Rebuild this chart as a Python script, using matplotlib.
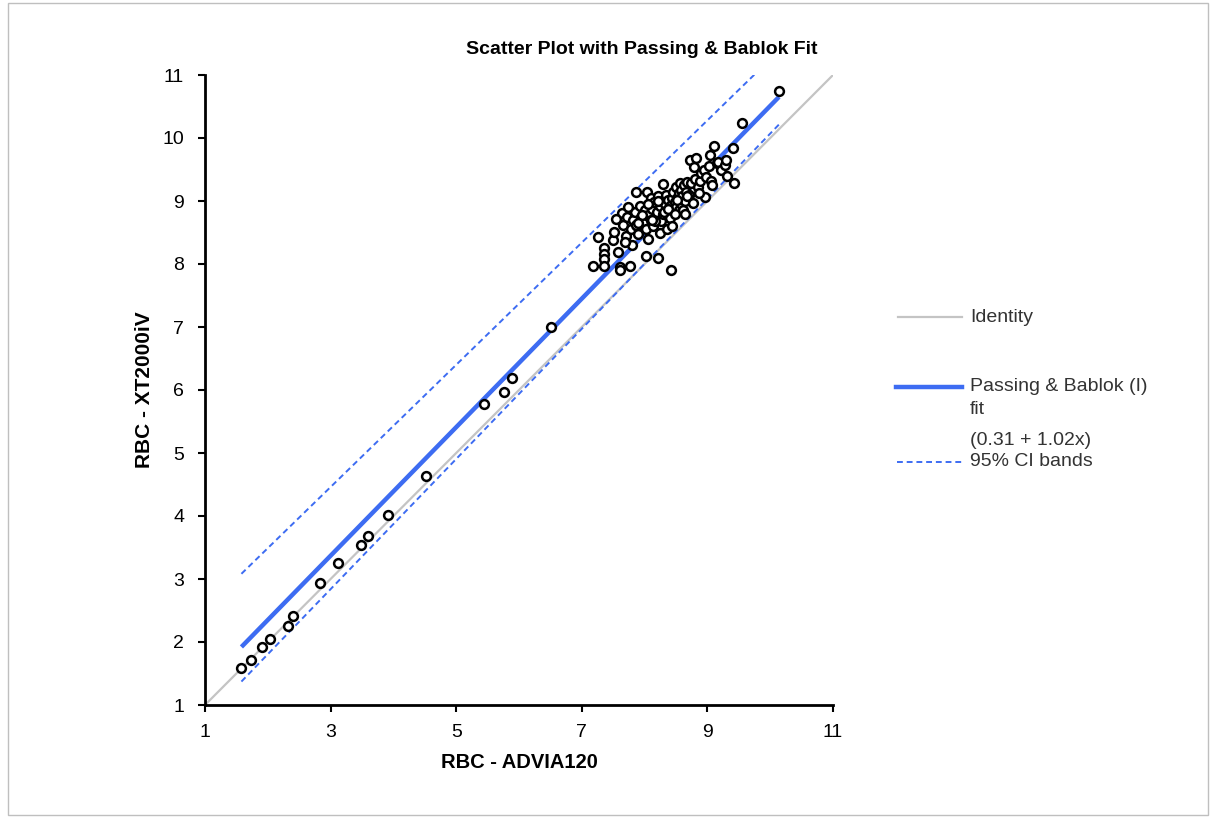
import numpy as np
import matplotlib
matplotlib.use("Agg")
import matplotlib.pyplot as plt
from matplotlib.lines import Line2D
from matplotlib.patches import Rectangle

plt.rcParams['font.family'] = ['Liberation Sans', 'DejaVu Sans']

# =============================
# DATA
# =============================
advia = [1.58, 1.73, 1.90, 2.03, 2.32, 2.40, 2.83, 3.12, 3.49, 3.60, 3.92, 4.52,
         5.44, 5.76, 5.89, 6.51,
         7.18, 7.26, 7.35, 7.35, 7.35, 7.35, 7.50, 7.51, 7.58, 7.61, 7.61, 7.64,
         7.66, 7.70, 7.72, 7.77, 7.78, 7.80, 7.82, 7.84, 7.86, 7.88, 7.90, 7.92,
         7.95, 7.98, 8.00, 8.02, 8.02, 8.04, 8.05, 8.06, 8.08, 8.10, 8.10, 8.12,
         8.14, 8.15, 8.18, 8.20, 8.21, 8.22, 8.24, 8.25, 8.26, 8.28, 8.29, 8.30,
         8.32, 8.34, 8.35, 8.36, 8.38, 8.40, 8.40, 8.42, 8.44, 8.45, 8.46, 8.48,
         8.50, 8.50, 8.52, 8.54, 8.55, 8.56, 8.58, 8.58, 8.60, 8.61, 8.62, 8.64,
         8.66, 8.68, 8.70, 8.72, 8.74, 8.77, 8.78, 8.80, 8.82, 8.85, 8.88, 8.90,
         8.95, 8.96, 8.98, 9.02, 9.04, 9.06, 9.08, 9.11, 9.15, 9.17, 9.22, 9.28,
         9.30, 9.31, 9.41, 9.42, 9.55, 10.14,
         7.55, 7.68, 7.74, 7.86, 7.96, 8.16, 8.31, 8.44, 8.64, 8.86,
         8.05, 8.22, 8.38, 8.52, 8.68, 7.90, 8.12, 8.48]
xt2000 = [1.58, 1.71, 1.92, 2.05, 2.25, 2.41, 2.94, 3.26, 3.54, 3.69, 4.02, 4.63,
          5.78, 5.97, 6.19, 7.00,
          7.97, 8.43, 8.25, 8.16, 8.08, 7.97, 8.38, 8.51, 8.19, 7.95, 7.90, 8.81,
          8.62, 8.45, 8.75, 7.97, 8.55, 8.30, 8.70, 8.82, 9.14, 8.60, 8.48, 8.92,
          8.75, 8.65, 8.85, 8.13, 8.55, 9.14, 8.78, 8.40, 8.95, 8.70, 9.05, 8.88,
          8.60, 8.98, 8.75, 8.82, 8.10, 9.08, 8.50, 8.92, 8.68, 9.00, 9.27, 8.80,
          8.95, 9.10, 8.55, 8.85, 9.02, 8.73, 8.92, 7.90, 9.05, 8.85, 9.15, 8.98,
          8.90, 9.22, 9.05, 8.85, 9.12, 9.29, 8.95, 9.18, 9.08, 8.86, 9.25, 9.00,
          9.15, 9.30, 9.10, 9.65, 9.28, 8.97, 9.54, 9.35, 9.68, 9.22, 9.32, 9.45,
          9.49, 9.06, 9.38, 9.55, 9.73, 9.32, 9.25, 9.87, 9.60, 9.62, 9.50, 9.57,
          9.65, 9.40, 9.84, 9.29, 10.24, 10.75,
          8.72, 8.35, 8.90, 8.62, 8.78, 8.68, 8.82, 8.60, 8.80, 9.12,
          8.95, 9.00, 8.88, 9.02, 9.08, 8.65, 8.70, 8.80]

# Passing & Bablok fit and its 95% CI bands: (intercept, slope)
fit_coef = (0.31, 1.02)
ci_upper = (1.55, 0.97)
ci_lower = (-0.26, 1.033)
fit_range = (1.58, 10.14)

x_ticks = [1, 3, 5, 7, 9, 11]
y_ticks = [1, 2, 3, 4, 5, 6, 7, 8, 9, 10, 11]

blue = "#3D6CF2"
grey = "#C4C4C4"

# =============================
# FIGURE
# =============================
fig = plt.figure(figsize=(12.12, 8.18), dpi=100)
ax = fig.add_axes([205/1212, 113/818, 628/1212, 630/818])

xs = np.linspace(fit_range[0], fit_range[1], 50)

ax.plot([1, 11], [1, 11], color=grey, lw=1.6, zorder=1)
ax.plot(xs, ci_upper[0] + ci_upper[1]*xs, color=blue, lw=1.4, ls=(0, (3, 2)), zorder=2)
ax.plot(xs, ci_lower[0] + ci_lower[1]*xs, color=blue, lw=1.4, ls=(0, (3, 2)), zorder=2)
ax.plot(xs, fit_coef[0] + fit_coef[1]*xs, color=blue, lw=3.2, zorder=2, solid_capstyle="butt")

ax.scatter(advia, xt2000, s=40, facecolors="white", edgecolors="black",
           linewidths=1.8, zorder=3)

ax.set_xlim(1, 11)
ax.set_ylim(1, 11)
ax.set_xticks(x_ticks)
ax.set_yticks(y_ticks)
ax.tick_params(direction="out", length=5, width=1.5, labelsize=14, colors="black")
ax.tick_params(axis="x", pad=9)
ax.tick_params(axis="y", pad=10)
for s in ["top", "right"]:
    ax.spines[s].set_visible(False)
for s in ["left", "bottom"]:
    ax.spines[s].set_linewidth(2)

ax.set_xlabel("RBC - ADVIA120", fontsize=14.5, fontweight="bold", labelpad=8)
ax.set_ylabel("RBC - XT2000iV", fontsize=15, fontweight="bold", labelpad=6)

fig.text(642/1212, 1 - 50/818, "Scatter Plot with Passing & Bablok Fit",
         ha="center", va="center", fontsize=14, fontweight="bold")

# =============================
# LEGEND (manual, like the original)
# =============================
def fy(py):
    return 1 - py/818

def fx(px):
    return px/1212

fig.add_artist(Line2D([fx(898), fx(962)], [fy(317), fy(317)], color=grey, lw=1.6))
fig.add_artist(Line2D([fx(896), fx(962)], [fy(387), fy(387)], color=blue, lw=3.2))
fig.add_artist(Line2D([fx(897), fx(962)], [fy(462), fy(462)], color=blue, lw=1.4,
                      ls=(0, (3, 2))))

leg_kw = dict(ha="left", va="center", fontsize=14, color="#333333")
fig.text(fx(970), fy(317), "Identity", **leg_kw)
fig.text(fx(970), fy(387), "Passing & Bablok (I)", **leg_kw)
fig.text(fx(970), fy(410), "fit", **leg_kw)
fig.text(fx(970), fy(440), "(0.31 + 1.02x)", **leg_kw)
fig.text(fx(970), fy(462), "95% CI bands", **leg_kw)

# outer frame
fig.add_artist(Rectangle((fx(8), fy(815)), fx(1200), 812/818, transform=fig.transFigure,
                         fill=False, edgecolor="#BFBFBF", lw=1))

fig.savefig("out.png", dpi=100)
